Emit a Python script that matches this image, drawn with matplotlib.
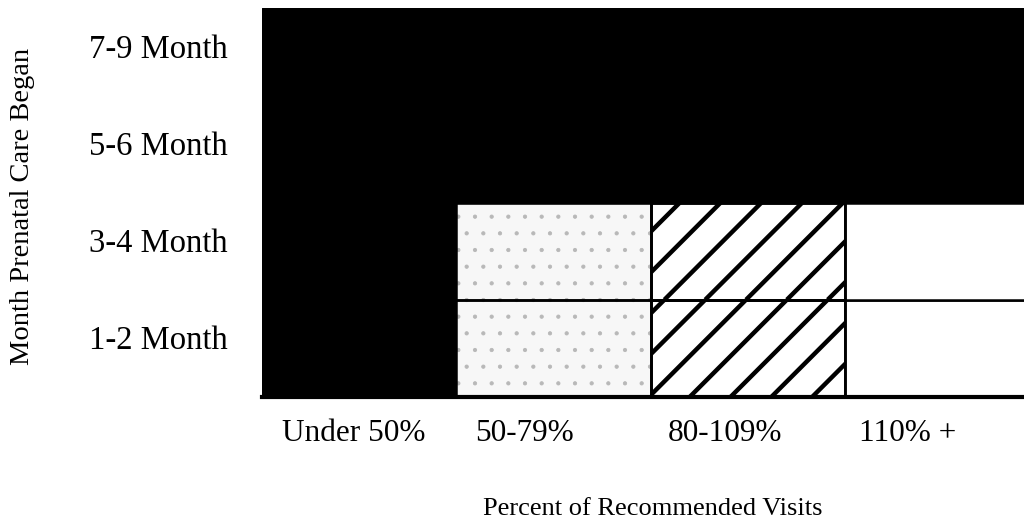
import numpy as np
import matplotlib
matplotlib.use("Agg")
import matplotlib.pyplot as plt
from matplotlib.patches import Rectangle

# ---------------- data ----------------
row_labels = ['1-2 Month', '3-4 Month', '5-6 Month', '7-9 Month']   # bottom -> top
col_labels = ['Under 50%', '50-79%', '80-109%', '110% +']
# adequacy level of each cell (rows bottom->top, cols left->right)
# 0 = inadequate (black), 1 = intermediate (stipple), 2 = adequate (hatch), 3 = adequate plus (white)
row_1_2 = [0, 1, 2, 3]
row_3_4 = [0, 1, 2, 3]
row_5_6 = [0, 0, 0, 0]
row_7_9 = [0, 0, 0, 0]
levels = [row_1_2, row_3_4, row_5_6, row_7_9]

# ---------------- style ----------------
plt.rcParams['font.family'] = ['Liberation Serif', 'DejaVu Serif']
plt.rcParams['hatch.linewidth'] = 0.6

fig = plt.figure(figsize=(10.24, 5.23), dpi=100)
ax = fig.add_axes([262/1024, 1 - 397/523, 1 - 262/1024, (397 - 8)/523])
ax.set_xlim(0, 3.92)
ax.set_ylim(0, 4)

black = '#000000'
xtick_shift = [-0.027, -0.152, -0.118, -0.177]
hatch_spacing = 0.21      # data units between diagonal lines (horizontal)
hatch_run = 0.5           # horizontal run per unit of height (45 degrees on screen)
hatch_phase = 0.10

for r, row in enumerate(levels):
    for c, lev in enumerate(row):
        if lev == 0:
            ax.add_patch(Rectangle((c, r), 1, 1, facecolor=black, edgecolor=black, lw=1.0))
        elif lev == 1:
            ax.add_patch(Rectangle((c, r), 1, 1, facecolor='#f7f7f7', edgecolor='#b8b8b8',
                                   hatch='.', lw=0))
            ax.add_patch(Rectangle((c, r), 1, 1, fill=False, edgecolor=black, lw=1.8, zorder=3))
        elif lev == 2:
            cell = Rectangle((c, r), 1, 1, facecolor='white', edgecolor=black, lw=1.8, zorder=2)
            ax.add_patch(cell)
            base = hatch_run * r + hatch_phase
            kmin = int(np.floor((c - hatch_run - base) / hatch_spacing)) - 1
            kmax = int(np.ceil((c + 1 - base) / hatch_spacing)) + 1
            for k in range(kmin, kmax + 1):
                x0 = base + k * hatch_spacing
                ln, = ax.plot([x0, x0 + hatch_run], [r, r + 1], color=black, lw=3.2,
                              solid_capstyle='butt', zorder=2.5)
                ln.set_clip_path(cell)
            ax.add_patch(Rectangle((c, r), 1, 1, fill=False, edgecolor=black, lw=1.8, zorder=3))
        else:
            ax.add_patch(Rectangle((c, r), 1, 1, facecolor='white', edgecolor=black, lw=1.8, zorder=2))

# axis frame
for s in ['top', 'right', 'left']:
    ax.spines[s].set_visible(False)
ax.spines['bottom'].set_linewidth(3)
ax.spines['bottom'].set_zorder(5)

ax.set_xticks([i + 0.5 + d for i, d in enumerate(xtick_shift)])
ax.set_xticklabels(col_labels, fontsize=22.5)
ax.set_yticks([i + 0.61 for i in range(len(row_labels))])
ax.set_yticklabels(row_labels, fontsize=23.5)
ax.tick_params(axis='both', length=0)
ax.tick_params(axis='y', pad=25)
ax.tick_params(axis='x', pad=16)

fig.text(23/1024, 1 - 206/523, 'Month Prenatal Care Began', rotation=90,
         ha='center', va='center', fontsize=20.5)
fig.text(653/1024, 1 - 515/523, 'Percent of Recommended Visits',
         ha='center', va='baseline', fontsize=19)

fig.savefig('out.png', dpi=100)
